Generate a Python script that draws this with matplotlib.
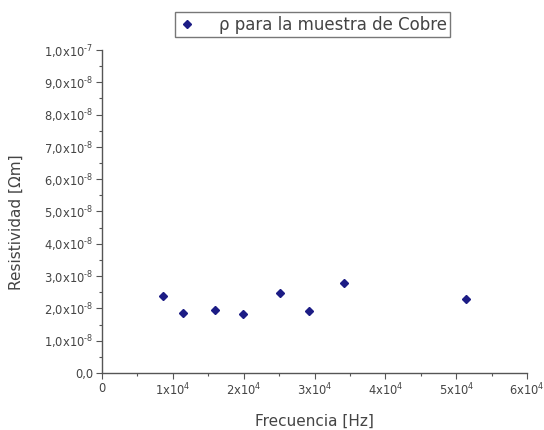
import matplotlib
matplotlib.use('Agg')
import matplotlib.pyplot as plt
from matplotlib.ticker import FixedLocator, MultipleLocator

plt.rcParams['font.family'] = ['DejaVu Sans']
plt.rcParams['mathtext.fontset'] = 'dejavusans'

# Resistivity measurements for the copper sample
frecuencia = [0.86e4, 1.14e4, 1.60e4, 1.99e4, 2.51e4, 2.92e4, 3.42e4, 5.14e4]
resistividad = [2.38e-8, 1.86e-8, 1.95e-8, 1.83e-8, 2.48e-8, 1.92e-8, 2.79e-8, 2.29e-8]

y_ticks = [i * 1e-8 for i in range(11)]
y_labels = ['0,0'] + ['%d,0x10$^{\\text{-8}}$' % i for i in range(1, 10)] + ['1,0x10$^{\\text{-7}}$']
x_ticks = [i * 1e4 for i in range(7)]
x_labels = ['0'] + ['%dx10$^{\\text{4}}$' % i for i in range(1, 7)]

fig = plt.figure(figsize=(5.44, 4.3), dpi=100)
ax = fig.add_axes([0.1875, 0.1326, 0.7815, 0.7511])

ax.plot(frecuencia, resistividad, linestyle='none', marker='D', markersize=4.5,
        color='#1c1c85', label='ρ para la muestra de Cobre')

ax.set_xlim(0, 6e4)
ax.set_ylim(0, 1e-7)
ax.yaxis.set_major_locator(FixedLocator(y_ticks))
ax.set_yticklabels(y_labels)
ax.xaxis.set_major_locator(FixedLocator(x_ticks))
ax.set_xticklabels(x_labels)
ax.xaxis.set_minor_locator(MultipleLocator(0.5e4))
ax.yaxis.set_minor_locator(MultipleLocator(0.5e-8))

for s in ['top', 'right']:
    ax.spines[s].set_visible(False)
for s in ['left', 'bottom']:
    ax.spines[s].set_color('#555555')
    ax.spines[s].set_linewidth(1.0)

ax.tick_params(which='major', direction='out', length=4, width=0.8, colors='#555555',
               labelsize=8.3, labelcolor='#444444', pad=2.5)
ax.tick_params(which='minor', direction='out', length=2.5, width=0.8, colors='#555555')

ax.set_xlabel('Frecuencia [Hz]', fontsize=11, color='#444444')
ax.xaxis.label.set_va('center')
ax.xaxis.set_label_coords(0.499, -0.149)
ax.set_ylabel('Resistividad [Ωm]', fontsize=11, color='#444444')
ax.yaxis.label.set_va('center')
ax.yaxis.set_label_coords(-0.202, 0.467)

leg = ax.legend(loc='upper left', bbox_to_anchor=(0.172, 1.118), fontsize=12,
                frameon=True, fancybox=False, borderpad=0.22, handletextpad=1.4,
                handlelength=1.0, borderaxespad=0)
leg.get_frame().set_edgecolor('#555555')
leg.get_frame().set_linewidth(1.0)
for t in leg.get_texts():
    t.set_color('#444444')

fig.savefig('out.png', dpi=100)
